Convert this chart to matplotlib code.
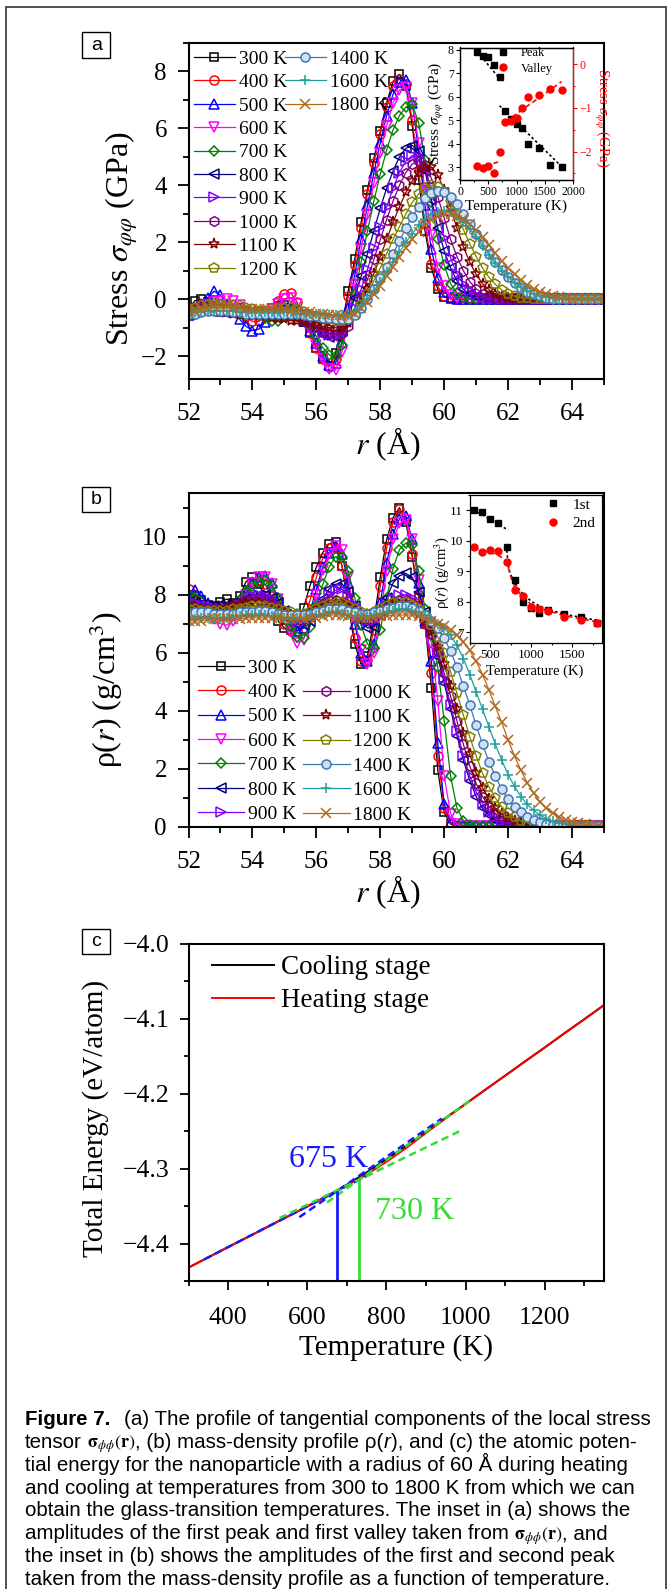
import matplotlib
matplotlib.use('Agg')
import matplotlib.pyplot as plt
from matplotlib.patches import Rectangle
from matplotlib.ticker import MultipleLocator, FuncFormatter

# ---------------- data ----------------
temps = [300, 400, 500, 600, 700, 800, 900, 1000, 1100, 1200, 1400, 1600, 1800]

r_pos = [52.0, 52.2, 52.4, 52.6, 52.8, 53.0, 53.2, 53.4, 53.6, 53.8, 54.0,
         54.2, 54.4, 54.6, 54.8, 55.0, 55.2, 55.4, 55.6, 55.8, 56.0, 56.2,
         56.4, 56.6, 56.8, 57.0, 57.2, 57.4, 57.6, 57.8, 58.0, 58.2, 58.4,
         58.6, 58.8, 59.0, 59.2, 59.4, 59.6, 59.8, 60.0, 60.2, 60.4, 60.6,
         60.8, 61.0, 61.2, 61.4, 61.6, 61.8, 62.0, 62.2, 62.4, 62.6, 62.8,
         63.0, 63.2, 63.4, 63.6, 63.8, 64.0, 64.2, 64.4, 64.6, 64.8, 65.0]

# tangential stress sigma_phiphi(r), GPa
stress_300 = [-0.35, -0.05, 0.0, -0.1, -0.3, -0.45, -0.45, -0.35, -0.3, -0.4, -0.5,
              -0.5, -0.4, -0.3, -0.25, -0.2, -0.3, -0.5, -0.8, -1.2, -1.7, -2.1,
              -2.34, -1.9, -0.9, 0.3, 1.4, 2.7, 3.85, 4.95, 5.9, 6.9, 7.65,
              7.9, 7.5, 6.1, 4.2, 2.4, 1.1, 0.35, 0.08, 0.02, 0, 0,
              0, 0, 0, 0, 0, 0, 0, 0, 0, 0, 0,
              0, 0, 0, 0, 0, 0, 0, 0, 0, 0, 0]
stress_400 = [-0.5, -0.3, -0.15, -0.15, -0.25, -0.35, -0.35, -0.3, -0.4, -0.6, -0.78,
              -0.78, -0.6, -0.3, -0.05, 0.2, 0.22, -0.1, -0.7, -1.2, -1.7, -2.1,
              -2.37, -2.1, -1.2, 0.1, 1.2, 2.5, 3.7, 4.8, 5.8, 6.75, 7.5,
              7.75, 7.55, 6.3, 4.5, 2.65, 1.25, 0.45, 0.12, 0.03, 0, 0,
              0, 0, 0, 0, 0, 0, 0, 0, 0, 0, 0,
              0, 0, 0, 0, 0, 0, 0, 0, 0, 0, 0]
stress_500 = [-0.55, -0.45, -0.25, 0.05, 0.28, 0.15, -0.2, -0.45, -0.7, -0.95, -1.1,
              -1.05, -0.8, -0.5, -0.3, -0.25, -0.35, -0.5, -0.75, -1.1, -1.55, -2.0,
              -2.3, -2.25, -1.5, -0.3, 0.85, 2.1, 3.3, 4.45, 5.5, 6.45, 7.2,
              7.62, 7.7, 6.9, 5.2, 3.3, 1.75, 0.75, 0.27, 0.08, 0.02, 0,
              0, 0, 0, 0, 0, 0, 0, 0, 0, 0, 0,
              0, 0, 0, 0, 0, 0, 0, 0, 0, 0, 0]
stress_600 = [-0.5, -0.45, -0.35, -0.2, -0.1, -0.05, 0.0, -0.05, -0.2, -0.4, -0.55,
              -0.6, -0.5, -0.35, -0.15, 0.0, 0.05, -0.15, -0.55, -1.05, -1.6, -2.1,
              -2.45, -2.5, -1.85, -0.7, 0.5, 1.75, 2.95, 4.1, 5.15, 6.1, 6.9,
              7.35, 7.45, 6.9, 5.5, 3.8, 2.25, 1.1, 0.45, 0.15, 0.05, 0.01,
              0, 0, 0, 0, 0, 0, 0, 0, 0, 0, 0,
              0, 0, 0, 0, 0, 0, 0, 0, 0, 0, 0]
stress_700 = [-0.6, -0.5, -0.4, -0.35, -0.3, -0.3, -0.35, -0.45, -0.5, -0.5, -0.5,
              -0.55, -0.65, -0.75, -0.75, -0.6, -0.4, -0.35, -0.55, -0.9, -1.3, -1.7,
              -1.95, -2.0, -1.6, -0.8, 0.2, 1.3, 2.4, 3.45, 4.4, 5.25, 5.95,
              6.45, 6.75, 6.85, 6.2, 4.9, 3.4, 2.1, 1.2, 0.55, 0.22, 0.08,
              0.02, 0, 0, 0, 0, 0, 0, 0, 0, 0, 0,
              0, 0, 0, 0, 0, 0, 0, 0, 0, 0, 0]
stress_800 = [-0.45, -0.4, -0.35, -0.3, -0.3, -0.35, -0.4, -0.45, -0.5, -0.5, -0.5,
              -0.5, -0.5, -0.5, -0.45, -0.4, -0.4, -0.5, -0.65, -0.85, -1.05, -1.25,
              -1.33, -1.3, -1.1, -0.6, 0.05, 0.8, 1.6, 2.4, 3.2, 3.9, 4.5,
              5.0, 5.3, 5.4, 5.2, 4.5, 3.5, 2.5, 1.7, 1.1, 0.65, 0.35,
              0.17, 0.07, 0.03, 0.01, 0, 0, 0, 0, 0, 0, 0,
              0, 0, 0, 0, 0, 0, 0, 0, 0, 0, 0]
stress_900 = [-0.4, -0.35, -0.3, -0.3, -0.35, -0.4, -0.45, -0.45, -0.45, -0.45, -0.45,
              -0.45, -0.45, -0.45, -0.45, -0.45, -0.5, -0.55, -0.7, -0.85, -1.0, -1.15,
              -1.25, -1.3, -1.2, -0.85, -0.3, 0.35, 1.05, 1.8, 2.55, 3.25, 3.9,
              4.45, 4.85, 5.05, 5.0, 4.6, 3.85, 3.0, 2.15, 1.45, 0.9, 0.52,
              0.28, 0.14, 0.06, 0.02, 0, 0, 0, 0, 0, 0, 0,
              0, 0, 0, 0, 0, 0, 0, 0, 0, 0, 0]
stress_1000 = [-0.4, -0.35, -0.3, -0.25, -0.25, -0.3, -0.35, -0.4, -0.45, -0.45, -0.45,
               -0.45, -0.45, -0.45, -0.5, -0.5, -0.55, -0.6, -0.7, -0.85, -0.95, -1.1,
               -1.2, -1.24, -1.2, -0.95, -0.5, 0.05, 0.7, 1.4, 2.1, 2.8, 3.45,
               4.0, 4.45, 4.75, 4.85, 4.7, 4.25, 3.6, 2.85, 2.1, 1.5, 1.0,
               0.62, 0.37, 0.2, 0.1, 0.04, 0.01, 0, 0, 0, 0, 0,
               0, 0, 0, 0, 0, 0, 0, 0, 0, 0, 0]
stress_1100 = [-0.45, -0.45, -0.4, -0.4, -0.4, -0.4, -0.45, -0.5, -0.55, -0.55, -0.55,
               -0.55, -0.6, -0.65, -0.7, -0.7, -0.75, -0.75, -0.8, -0.85, -0.9, -0.95,
               -1.0, -1.0, -1.0, -0.85, -0.55, -0.15, 0.35, 0.9, 1.5, 2.1, 2.7,
               3.25, 3.75, 4.15, 4.45, 4.62, 4.65, 4.35, 3.85, 3.2, 2.5, 1.85,
               1.3, 0.87, 0.55, 0.33, 0.18, 0.09, 0.04, 0.01, 0, 0, 0,
               0, 0, 0, 0, 0, 0, 0, 0, 0, 0, 0]
stress_1200 = [-0.35, -0.3, -0.25, -0.2, -0.15, -0.15, -0.15, -0.2, -0.25, -0.3, -0.35,
               -0.4, -0.4, -0.4, -0.35, -0.3, -0.3, -0.35, -0.45, -0.55, -0.6, -0.65,
               -0.7, -0.75, -0.76, -0.7, -0.5, -0.2, 0.2, 0.65, 1.1, 1.6, 2.1,
               2.55, 3.0, 3.4, 3.7, 3.9, 4.0, 3.95, 3.75, 3.4, 2.95, 2.45,
               1.95, 1.5, 1.1, 0.77, 0.52, 0.33, 0.2, 0.11, 0.06, 0.03, 0.01,
               0, 0, 0, 0, 0, 0, 0, 0, 0, 0, 0]
stress_1400 = [-0.5, -0.5, -0.45, -0.4, -0.4, -0.4, -0.4, -0.45, -0.45, -0.5, -0.5,
               -0.5, -0.5, -0.5, -0.5, -0.5, -0.5, -0.5, -0.55, -0.6, -0.6, -0.65,
               -0.65, -0.7, -0.7, -0.68, -0.55, -0.3, 0.0, 0.35, 0.75, 1.15, 1.6,
               2.05, 2.5, 2.9, 3.25, 3.55, 3.72, 3.8, 3.75, 3.6, 3.35, 3.0,
               2.65, 2.3, 1.95, 1.6, 1.3, 1.02, 0.78, 0.57, 0.4, 0.27, 0.17,
               0.1, 0.05, 0.02, 0, 0, 0, 0, 0, 0, 0, 0]
stress_1600 = [-0.5, -0.45, -0.45, -0.4, -0.4, -0.4, -0.4, -0.4, -0.45, -0.45, -0.45,
               -0.45, -0.45, -0.45, -0.45, -0.45, -0.45, -0.5, -0.5, -0.5, -0.5, -0.5,
               -0.55, -0.55, -0.56, -0.55, -0.45, -0.25, 0.0, 0.3, 0.6, 0.95, 1.3,
               1.65, 2.0, 2.3, 2.6, 2.82, 2.98, 3.07, 3.1, 3.05, 2.92, 2.72,
               2.47, 2.18, 1.88, 1.57, 1.28, 1.01, 0.78, 0.58, 0.42, 0.29, 0.19,
               0.12, 0.07, 0.04, 0.02, 0.01, 0, 0, 0, 0, 0, 0]
stress_1800 = [-0.45, -0.4, -0.35, -0.3, -0.25, -0.25, -0.25, -0.3, -0.3, -0.35, -0.35,
               -0.35, -0.35, -0.35, -0.35, -0.35, -0.4, -0.4, -0.45, -0.45, -0.5, -0.5,
               -0.55, -0.55, -0.59, -0.58, -0.5, -0.32, -0.1, 0.17, 0.47, 0.8, 1.13,
               1.47, 1.8, 2.1, 2.38, 2.6, 2.78, 2.92, 2.99, 3.0, 2.94, 2.82,
               2.64, 2.42, 2.17, 1.9, 1.62, 1.35, 1.1, 0.87, 0.67, 0.5, 0.36,
               0.25, 0.17, 0.11, 0.07, 0.04, 0.02, 0.01, 0, 0, 0, 0]

# mass density rho(r), g/cm^3
dens_300 = [8.0, 7.95, 7.8, 7.65, 7.6, 7.75, 7.85, 7.7, 7.95, 8.45, 8.6,
            8.35, 7.95, 7.5, 7.1, 6.85, 6.8, 7.0, 7.55, 8.3, 8.95, 9.45,
            9.75, 9.8, 9.0, 7.6, 6.3, 5.6, 5.9, 7.1, 8.6, 9.9, 10.65,
            11.0, 10.5, 9.3, 7.9, 7.0, 4.8, 1.95, 0.5, 0.1, 0.03, 0.03,
            0.03, 0.03, 0.03, 0.03, 0.03, 0.03, 0.03, 0.03, 0.03, 0.03, 0.03,
            0.03, 0.03, 0.03, 0.03, 0.03, 0.03, 0.03, 0.03, 0.03, 0.03, 0.03]
dens_400 = [8.2, 8.0, 7.75, 7.55, 7.45, 7.45, 7.5, 7.6, 7.8, 8.1, 8.4,
            8.5, 8.35, 7.95, 7.45, 7.0, 6.75, 6.75, 7.1, 7.8, 8.6, 9.25,
            9.6, 9.62, 9.0, 7.8, 6.5, 5.7, 5.75, 6.8, 8.3, 9.6, 10.5,
            10.95, 10.6, 9.4, 8.0, 7.0, 5.3, 2.45, 0.65, 0.13, 0.03, 0.03,
            0.03, 0.03, 0.03, 0.03, 0.03, 0.03, 0.03, 0.03, 0.03, 0.03, 0.03,
            0.03, 0.03, 0.03, 0.03, 0.03, 0.03, 0.03, 0.03, 0.03, 0.03, 0.03]
dens_500 = [7.9, 8.15, 7.95, 7.7, 7.5, 7.4, 7.35, 7.45, 7.7, 8.05, 8.4,
            8.6, 8.65, 8.4, 7.9, 7.35, 6.95, 6.75, 6.85, 7.4, 8.2, 8.95,
            9.45, 9.69, 9.4, 8.4, 7.0, 6.0, 5.7, 6.3, 7.7, 9.1, 10.1,
            10.6, 10.7, 9.9, 8.4, 7.1, 5.7, 2.9, 0.8, 0.17, 0.04, 0.03,
            0.03, 0.03, 0.03, 0.03, 0.03, 0.03, 0.03, 0.03, 0.03, 0.03, 0.03,
            0.03, 0.03, 0.03, 0.03, 0.03, 0.03, 0.03, 0.03, 0.03, 0.03, 0.03]
dens_600 = [7.7, 7.6, 7.45, 7.3, 7.15, 7.0, 6.95, 7.1, 7.5, 8.0, 8.4,
            8.6, 8.6, 8.35, 7.85, 7.25, 6.7, 6.35, 6.45, 7.1, 8.0, 8.85,
            9.4, 9.67, 9.55, 8.6, 7.2, 6.1, 5.6, 6.0, 7.3, 8.8, 9.9,
            10.45, 10.57, 9.9, 8.5, 7.1, 6.35, 4.35, 1.75, 0.46, 0.1, 0.03,
            0.03, 0.03, 0.03, 0.03, 0.03, 0.03, 0.03, 0.03, 0.03, 0.03, 0.03,
            0.03, 0.03, 0.03, 0.03, 0.03, 0.03, 0.03, 0.03, 0.03, 0.03, 0.03]
dens_700 = [8.0, 7.9, 7.75, 7.5, 7.35, 7.25, 7.3, 7.5, 7.8, 8.1, 8.3,
            8.45, 8.5, 8.3, 7.9, 7.4, 6.9, 6.55, 6.5, 6.9, 7.6, 8.35,
            8.95, 9.31, 9.3, 8.8, 7.9, 6.95, 6.3, 6.15, 6.8, 7.9, 8.9,
            9.55, 9.78, 9.7, 8.8, 7.5, 6.6, 5.5, 3.65, 1.75, 0.65, 0.22,
            0.08, 0.03, 0.03, 0.03, 0.03, 0.03, 0.03, 0.03, 0.03, 0.03, 0.03,
            0.03, 0.03, 0.03, 0.03, 0.03, 0.03, 0.03, 0.03, 0.03, 0.03, 0.03]
dens_800 = [7.75, 7.7, 7.65, 7.6, 7.6, 7.6, 7.65, 7.7, 7.75, 7.85, 7.95,
            8.0, 8.0, 7.9, 7.7, 7.45, 7.2, 7.0, 6.95, 7.1, 7.45, 7.85,
            8.2, 8.35, 8.38, 8.1, 7.6, 7.1, 6.85, 6.9, 7.3, 7.9, 8.4,
            8.65, 8.73, 8.6, 8.1, 7.4, 6.7, 5.85, 4.95, 4.05, 3.15, 2.3,
            1.6, 1.05, 0.65, 0.4, 0.24, 0.14, 0.08, 0.05, 0.03, 0.03, 0.03,
            0.03, 0.03, 0.03, 0.03, 0.03, 0.03, 0.03, 0.03, 0.03, 0.03, 0.03]
dens_900 = [7.7, 7.7, 7.65, 7.6, 7.55, 7.5, 7.5, 7.55, 7.65, 7.8, 7.95,
            8.0, 7.95, 7.85, 7.65, 7.45, 7.25, 7.1, 7.05, 7.15, 7.4, 7.7,
            8.0, 8.15, 8.19, 8.0, 7.65, 7.3, 7.1, 7.1, 7.3, 7.6, 7.85,
            7.98, 8.0, 7.9, 7.6, 7.2, 6.7, 6.0, 5.1, 4.2, 3.3, 2.45,
            1.75, 1.2, 0.8, 0.52, 0.33, 0.2, 0.12, 0.07, 0.05, 0.03, 0.03,
            0.03, 0.03, 0.03, 0.03, 0.03, 0.03, 0.03, 0.03, 0.03, 0.03, 0.03]
dens_1000 = [7.65, 7.6, 7.55, 7.5, 7.5, 7.5, 7.55, 7.6, 7.7, 7.8, 7.85,
             7.85, 7.8, 7.7, 7.55, 7.4, 7.25, 7.15, 7.15, 7.3, 7.5, 7.68,
             7.8, 7.82, 7.75, 7.6, 7.4, 7.25, 7.2, 7.3, 7.45, 7.6, 7.72,
             7.8, 7.8, 7.7, 7.45, 7.1, 6.65, 6.05, 5.3, 4.5, 3.65, 2.85,
             2.1, 1.5, 1.05, 0.7, 0.47, 0.31, 0.2, 0.13, 0.08, 0.05, 0.03,
             0.03, 0.03, 0.03, 0.03, 0.03, 0.03, 0.03, 0.03, 0.03, 0.03, 0.03]
dens_1100 = [7.6, 7.55, 7.5, 7.45, 7.45, 7.5, 7.55, 7.6, 7.65, 7.7, 7.7,
             7.7, 7.65, 7.6, 7.5, 7.4, 7.3, 7.25, 7.25, 7.35, 7.5, 7.62,
             7.72, 7.75, 7.7, 7.6, 7.45, 7.35, 7.3, 7.35, 7.45, 7.55, 7.62,
             7.64, 7.64, 7.55, 7.35, 7.05, 6.7, 6.2, 5.6, 4.85, 4.05, 3.25,
             2.5, 1.85, 1.35, 0.95, 0.65, 0.44, 0.3, 0.2, 0.13, 0.09, 0.06,
             0.04, 0.03, 0.03, 0.03, 0.03, 0.03, 0.03, 0.03, 0.03, 0.03, 0.03]
dens_1200 = [7.5, 7.5, 7.45, 7.45, 7.45, 7.45, 7.45, 7.5, 7.5, 7.55, 7.6,
             7.6, 7.6, 7.55, 7.5, 7.45, 7.4, 7.35, 7.35, 7.4, 7.5, 7.6,
             7.68, 7.71, 7.7, 7.6, 7.5, 7.4, 7.35, 7.4, 7.5, 7.6, 7.7,
             7.73, 7.73, 7.65, 7.5, 7.25, 6.95, 6.55, 6.0, 5.35, 4.6, 3.85,
             3.1, 2.45, 1.85, 1.38, 1.0, 0.7, 0.48, 0.33, 0.22, 0.15, 0.1,
             0.07, 0.05, 0.04, 0.03, 0.03, 0.03, 0.03, 0.03, 0.03, 0.03, 0.03]
dens_1400 = [7.35, 7.4, 7.4, 7.4, 7.35, 7.35, 7.35, 7.35, 7.4, 7.4, 7.4,
             7.45, 7.45, 7.4, 7.35, 7.3, 7.3, 7.3, 7.3, 7.35, 7.4, 7.45,
             7.5, 7.51, 7.5, 7.45, 7.4, 7.35, 7.35, 7.4, 7.45, 7.5, 7.55,
             7.6, 7.6, 7.55, 7.45, 7.3, 7.1, 6.85, 6.5, 6.05, 5.5, 4.85,
             4.2, 3.5, 2.85, 2.25, 1.75, 1.3, 0.95, 0.7, 0.5, 0.35, 0.25,
             0.17, 0.12, 0.08, 0.06, 0.04, 0.03, 0.03, 0.03, 0.03, 0.03, 0.03]
dens_1600 = [7.15, 7.15, 7.2, 7.2, 7.2, 7.2, 7.2, 7.25, 7.25, 7.3, 7.3,
             7.3, 7.3, 7.25, 7.25, 7.2, 7.2, 7.2, 7.2, 7.25, 7.3, 7.35,
             7.4, 7.4, 7.35, 7.3, 7.25, 7.25, 7.25, 7.3, 7.35, 7.4, 7.45,
             7.49, 7.49, 7.45, 7.4, 7.3, 7.15, 7.0, 6.85, 6.6, 6.25, 5.8,
             5.25, 4.65, 4.05, 3.45, 2.85, 2.3, 1.8, 1.4, 1.05, 0.78, 0.57,
             0.41, 0.29, 0.2, 0.14, 0.1, 0.07, 0.05, 0.04, 0.03, 0.03, 0.03]
dens_1800 = [7.1, 7.1, 7.1, 7.15, 7.15, 7.15, 7.15, 7.15, 7.15, 7.2, 7.2,
             7.2, 7.2, 7.2, 7.2, 7.15, 7.15, 7.15, 7.15, 7.2, 7.2, 7.25,
             7.3, 7.3, 7.3, 7.25, 7.2, 7.2, 7.2, 7.2, 7.25, 7.25, 7.3,
             7.3, 7.3, 7.3, 7.25, 7.2, 7.1, 7.0, 6.92, 6.8, 6.62, 6.38,
             6.08, 5.7, 5.25, 4.72, 4.15, 3.6, 3.0, 2.45, 1.95, 1.52, 1.16,
             0.87, 0.64, 0.47, 0.34, 0.25, 0.18, 0.13, 0.09, 0.07, 0.05, 0.04]

# inset (a): first peak / first valley of sigma_phiphi
peak_amp = [7.9, 7.75, 7.7, 7.35, 6.85, 5.4, 5.05, 4.85, 4.65, 4.0, 3.8, 3.1, 3.0]
valley_amp = [-2.34, -2.37, -2.34, -2.5, -2.0, -1.33, -1.3, -1.24, -1.0, -0.76, -0.7, -0.56, -0.59]
peak_fit_lo_t, peak_fit_lo = [250, 720], [8.08, 6.72]
peak_fit_hi_t, peak_fit_hi = [700, 1850], [5.62, 2.9]
valley_fit_lo_t, valley_fit_lo = [450, 720], [-2.33, -2.22]
valley_fit_hi_t, valley_fit_hi = [800, 1800], [-1.32, -0.4]

# inset (b): first / second density peak
first_peak = [11.0, 10.95, 10.7, 10.57, 9.78, 8.73, 8.0, 7.8, 7.64, 7.73, 7.6, 7.49, 7.3]
second_peak = [9.8, 9.62, 9.69, 9.67, 9.31, 8.38, 8.19, 7.82, 7.75, 7.71, 7.51, 7.4, 7.3]
first_fit_lo_t, first_fit_lo = [300, 720], [11.02, 10.35]
first_fit_hi_t = [700, 715, 740, 770, 800, 850, 900, 1000, 1100, 1200, 1400, 1600, 1850]
first_fit_hi = [9.85, 9.3, 8.95, 8.78, 8.62, 8.42, 8.25, 8.02, 7.86, 7.75, 7.6, 7.49, 7.37]
second_fit_t = [300, 400, 500, 600, 650, 700, 730, 760, 800, 900, 1000, 1100, 1200, 1400, 1600, 1850]
second_fit = [9.75, 9.7, 9.62, 9.52, 9.44, 9.3, 9.05, 8.75, 8.5, 8.12, 7.92, 7.8, 7.71, 7.55, 7.44, 7.32]

# panel (c): potential energy, eV/atom
energy_t = [300, 350, 400, 450, 500, 550, 600, 650, 700, 750, 800,
            850, 900, 950, 1000, 1050, 1100, 1150, 1200, 1250, 1300, 1350]
energy_cool = [-4.432, -4.4184, -4.4048, -4.3912, -4.3776, -4.364, -4.3504, -4.3366, -4.3215, -4.305, -4.2875,
               -4.2695, -4.251, -4.232, -4.2135, -4.1947, -4.1758, -4.157, -4.1382, -4.1193, -4.1005, -4.0816]
energy_heat = [-4.4322, -4.4185, -4.4046, -4.3913, -4.3778, -4.3641, -4.3506, -4.337, -4.3225, -4.308, -4.291,
               -4.2725, -4.2525, -4.233, -4.2138, -4.1945, -4.1761, -4.1568, -4.1385, -4.119, -4.1008, -4.0814]
tg_cool, e_tg_cool = 675, -4.330
tg_heat, e_tg_heat = 730, -4.315
cool_lo_t, cool_lo = [340, 760], [-4.4211, -4.3069]
cool_hi_t, cool_hi = [580, 940], [-4.3648, -4.233]
heat_lo_t, heat_lo = [530, 990], [-4.366, -4.2487]
heat_hi_t, heat_hi = [650, 1010], [-4.3452, -4.2094]

caption_lines = [
    'tial energy for the nanoparticle with a radius of 60 Å during heating',
    'and cooling at temperatures from 300 to 1800 K from which we can',
    'obtain the glass-transition temperatures. The inset in (a) shows the',
]
caption_tail = [
    'the inset in (b) shows the amplitudes of the first and second peak',
    'taken from the mass-density profile as a function of temperature.',
]

# ---------------- styling ----------------
colors = ['#000000', '#ff0000', '#0000ff', '#ff00ff', '#008000', '#000080', '#8000ff',
          '#800080', '#800000', '#808000', '#3f76b4', '#1f9e9e', '#b0691f']
markers = ['s', 'o', '^', 'v', 'D', '<', '>', 'h', '*', 'p', 'o', '+', 'x']
msizes = [6, 6.5, 6.5, 6.5, 5.5, 6.5, 6.5, 7, 8, 7, 6.5, 7.5, 6.5]
faces = ['none'] * 10 + ['#cfe0f3', 'none', 'none']

plt.rcParams['font.family'] = ['Liberation Serif', 'DejaVu Serif']
plt.rcParams['mathtext.fontset'] = 'stix'
plt.rcParams['axes.linewidth'] = 1.5
plt.rcParams['xtick.direction'] = 'out'
plt.rcParams['ytick.direction'] = 'out'

W, H = 672, 1589
fig = plt.figure(figsize=(W / 100, H / 100), dpi=100)


def px_axes(left, top, right, bottom):
    return fig.add_axes([left / W, 1 - bottom / H, (right - left) / W, (bottom - top) / H])


def main_ticks(ax, xmaj, ymaj, size=18, major=8, minor=4.5, xpad=9.5, ypad=7.5):
    ax.xaxis.set_major_locator(MultipleLocator(xmaj))
    ax.xaxis.set_minor_locator(MultipleLocator(xmaj / 2))
    ax.yaxis.set_major_locator(MultipleLocator(ymaj))
    ax.yaxis.set_minor_locator(MultipleLocator(ymaj / 2))
    ax.tick_params(which='major', length=major, width=1.3, labelsize=size)
    ax.tick_params(which='minor', length=minor, width=1.3)
    ax.tick_params(axis='x', which='major', pad=xpad)
    ax.tick_params(axis='y', which='major', pad=ypad)


def inset_ticks(ax, size=8.5):
    ax.tick_params(which='major', length=3, width=0.8, labelsize=size, pad=1.5)
    ax.tick_params(which='minor', length=1.6, width=0.8)
    for s in ax.spines.values():
        s.set_linewidth(0.9)


def place_labels(ax, xlab, xc, ylab, yc, size, yrot=90):
    ax.set_xlabel(xlab, fontsize=size, va='center')
    ax.set_ylabel(ylab, fontsize=size, va='center', rotation=yrot)
    inv = ax.transAxes.inverted()
    ax.xaxis.set_label_coords(*inv.transform((xc[0], H - xc[1])))
    ax.yaxis.set_label_coords(*inv.transform((yc[0], H - yc[1])))


def px_legend(ax, handles, labels, x, y, size, **kw):
    opts = dict(loc='upper left', bbox_to_anchor=(x / W, 1 - y / H),
                bbox_transform=fig.transFigure, frameon=False, fontsize=size,
                borderpad=0, borderaxespad=0)
    opts.update(kw)
    return ax.legend(handles, labels, **opts)


def panel_tag(x0, y0, x1, y1, letter):
    fig.add_artist(Rectangle((x0 / W, 1 - y1 / H), (x1 - x0) / W, (y1 - y0) / H,
                             transform=fig.transFigure, fill=False, lw=1.0, ec='black'))
    fig.text((x0 + x1) / 2 / W, 1 - (y0 + y1) / 2 / H, letter, ha='center', va='center',
             family='Liberation Sans', fontsize=14)


def series(ax, ydata):
    handles = []
    for y, c, m, ms, fc in zip(ydata, colors, markers, msizes, faces):
        h, = ax.plot(r_pos, y, color=c, marker=m, ms=ms, mfc=fc, mew=1.1, lw=0.9)
        handles.append(h)
    return handles


labels_k = ['%d K' % t for t in temps]

# ---------------- panel (a) ----------------
ax_a = px_axes(188.5, 43, 604, 379)
h_a = series(ax_a, [stress_300, stress_400, stress_500, stress_600, stress_700, stress_800,
                    stress_900, stress_1000, stress_1100, stress_1200, stress_1400,
                    stress_1600, stress_1800])
ax_a.set_xlim(52, 65)
ax_a.set_ylim(-2.8, 9)
main_ticks(ax_a, 2, 2)
place_labels(ax_a, r'$r$ (Å)', (388, 444), r'Stress $\sigma_{\varphi\varphi}$ (GPa)', (122, 239), 23)
leg1 = px_legend(ax_a, h_a[:10], labels_k[:10], 194, 50, 14, handlelength=2.1,
                 handletextpad=0.2, labelspacing=0.3)
ax_a.add_artist(leg1)
px_legend(ax_a, h_a[10:], labels_k[10:], 285, 50, 14, handlelength=2.1,
          handletextpad=0.2, labelspacing=0.3)

ia = px_axes(460, 47.5, 573, 180)
ia.plot(peak_fit_lo_t, peak_fit_lo, color='black', ls=(0, (1.5, 1.5)), lw=1.2)
ia.plot(peak_fit_hi_t, peak_fit_hi, color='black', ls=(0, (1.5, 1.5)), lw=1.2)
hp, = ia.plot(temps, peak_amp, 's', color='black', ms=4.5)
ia.set_xlim(0, 2000)
ia.set_ylim(2.45, 8.1)
ia.xaxis.set_major_locator(MultipleLocator(500))
ia.xaxis.set_minor_locator(MultipleLocator(250))
ia.yaxis.set_major_locator(MultipleLocator(1))
ia.yaxis.set_minor_locator(MultipleLocator(0.5))
inset_ticks(ia)
ia2 = ia.twinx()
ia2.plot(valley_fit_lo_t, valley_fit_lo, color='red', ls=(0, (3, 2)), lw=1.2)
ia2.plot(valley_fit_hi_t, valley_fit_hi, color='red', ls=(0, (3, 2)), lw=1.2)
hv, = ia2.plot(temps, valley_amp, 'o', color='red', ms=5)
ia2.set_ylim(-2.65, 0.38)
ia2.yaxis.set_major_locator(MultipleLocator(1))
ia2.yaxis.set_minor_locator(MultipleLocator(0.5))
inset_ticks(ia2)
ia2.spines['right'].set_color('red')
ia2.tick_params(axis='y', which='both', colors='red')
place_labels(ia, 'Temperature (K)', (516, 206), r'Stress $\sigma_{\varphi\varphi}$ (GPa)', (437, 113), 11)
ia2.set_ylabel(r'Stress $\sigma_{\varphi\varphi}$ (GPa)', fontsize=10.5, color='red',
               rotation=270, va='center')
ia2.yaxis.set_label_coords(*ia2.transAxes.inverted().transform((601, H - 118)))
px_legend(ia2, [hp, hv], ['Peak', 'Valley'], 497, 47, 9, handlelength=1.0,
          handletextpad=0.9, labelspacing=0.3)

# ---------------- panel (b) ----------------
ax_b = px_axes(188.5, 493, 604, 827)
h_b = series(ax_b, [dens_300, dens_400, dens_500, dens_600, dens_700, dens_800,
                    dens_900, dens_1000, dens_1100, dens_1200, dens_1400,
                    dens_1600, dens_1800])
ax_b.set_xlim(52, 65)
ax_b.set_ylim(0, 11.5)
main_ticks(ax_b, 2, 2)
place_labels(ax_b, r'$r$ (Å)', (388, 892), r'ρ($r$) (g/cm$^3$)', (106, 690), 23)
leg1 = px_legend(ax_b, h_b[:7], labels_k[:7], 197.5, 659, 14, handlelength=2.4,
                 handletextpad=0.2, labelspacing=0.35)
ax_b.add_artist(leg1)
px_legend(ax_b, h_b[7:], labels_k[7:], 302.9, 684, 14, handlelength=2.4,
          handletextpad=0.2, labelspacing=0.35)

ib = px_axes(469.5, 495, 602, 643)
ib.plot(first_fit_lo_t, first_fit_lo, color='black', ls=(0, (1.5, 1.5)), lw=1.2)
ib.plot(first_fit_hi_t, first_fit_hi, color='black', ls=(0, (1.5, 1.5)), lw=1.2)
ib.plot(second_fit_t, second_fit, color='red', ls=(0, (3, 2)), lw=1.2)
h1, = ib.plot(temps, first_peak, 's', color='black', ms=4.5)
h2, = ib.plot(temps, second_peak, 'o', color='red', ms=5)
ib.set_xlim(250, 1860)
ib.set_ylim(6.65, 11.5)
ib.xaxis.set_major_locator(MultipleLocator(500))
ib.xaxis.set_minor_locator(MultipleLocator(250))
ib.yaxis.set_major_locator(MultipleLocator(1))
ib.yaxis.set_minor_locator(MultipleLocator(0.5))
inset_ticks(ib, 9.5)
place_labels(ib, 'Temperature (K)', (535, 671), r'ρ($r$) (g/cm$^3$)', (442, 573), 10.5)
px_legend(ib, [h1, h2], ['1st', '2nd'], 545, 498, 11, handlelength=1.0,
          handletextpad=0.8, labelspacing=0.3)

# ---------------- panel (c) ----------------
ax_c = px_axes(188.5, 944, 604, 1281)
hc, = ax_c.plot(energy_t, energy_cool, color='black', lw=1.4)
hh, = ax_c.plot(energy_t, energy_heat, color='red', lw=1.4)
blue, green = '#1a1aff', '#33dd33'
dash = (0, (3, 1.8))
ax_c.plot(cool_lo_t, cool_lo, color=blue, ls=dash, lw=1.8)
ax_c.plot(cool_hi_t, cool_hi, color=blue, ls=dash, lw=1.8)
ax_c.plot(heat_lo_t, heat_lo, color=green, ls=dash, lw=1.8)
ax_c.plot(heat_hi_t, heat_hi, color=green, ls=dash, lw=1.8)
ax_c.set_xlim(300, 1350)
ax_c.set_ylim(-4.45, -4.0)
ax_c.vlines(tg_cool, -4.45, e_tg_cool, color=blue, lw=2)
ax_c.vlines(tg_heat, -4.45, e_tg_heat, color=green, lw=2)
ax_c.text(tg_cool - 120, -4.288, '%d K' % tg_cool, color=blue, fontsize=23, va='center')
ax_c.text(tg_heat + 41, -4.357, '%d K' % tg_heat, color=green, fontsize=23, va='center')
main_ticks(ax_c, 200, 0.1, size=18.5, major=6.5, minor=3.5, xpad=12, ypad=7)
ax_c.yaxis.set_major_formatter(FuncFormatter(lambda v, p: ('%.1f' % v).replace('-', '\u2212')))
place_labels(ax_c, 'Temperature (K)', (396, 1348), 'Total Energy (eV/atom)', (96, 1118), 21)
px_legend(ax_c, [hc, hh], ['Cooling stage', 'Heating stage'], 211.8, 955, 19.5,
          handlelength=2.3, handletextpad=0.25, labelspacing=0.3)

# ---------------- tags, frame, caption ----------------
panel_tag(82.3, 32.3, 110, 58.3, 'a')
panel_tag(82.3, 486.7, 110, 511.7, 'b')
panel_tag(82.3, 929.3, 110, 954.3, 'c')
fig.add_artist(Rectangle((6 / W, -0.01), 660 / W, 1.01 - 7 / H, transform=fig.transFigure,
                         fill=False, lw=1.2, ec='#333333'))

rend = fig.canvas.get_renderer()
cap = dict(family='Liberation Sans', fontsize=14.8)
sigma = dict(math_fontfamily='stix', fontsize=13, family='Liberation Sans')


def caption_line(y, runs):
    x = 25
    for text, kw, gap in runs:
        t = fig.text(x / W, 1 - y / H, text, ha='left', va='baseline', **kw)
        x += t.get_window_extent(rend).width + gap


base, step = 1425, 22.85
caption_line(base, [('Figure 7.', dict(cap, weight='bold'), 14),
                    ('(a) The profile of tangential components of the local stress', cap, 0)])
caption_line(base + step, [('tensor', cap, 5),
                           (r'$\mathbf{\sigma}_{\phi\phi}(\mathbf{r})$', sigma, 0),
                           (', (b) mass-density profile ρ(', cap, 0),
                           ('r', dict(cap, style='italic'), 1),
                           ('), and (c) the atomic poten-', cap, 0)])
for k, line in enumerate(caption_lines):
    caption_line(base + (2 + k) * step, [(line, cap, 0)])
caption_line(base + 5 * step, [('amplitudes of the first peak and first valley taken from', cap, 5),
                               (r'$\mathbf{\sigma}_{\phi\phi}(\mathbf{r})$', sigma, 0),
                               (', and', cap, 0)])
for k, line in enumerate(caption_tail):
    caption_line(base + (6 + k) * step, [(line, cap, 0)])

fig.savefig('out.png', dpi=100)
